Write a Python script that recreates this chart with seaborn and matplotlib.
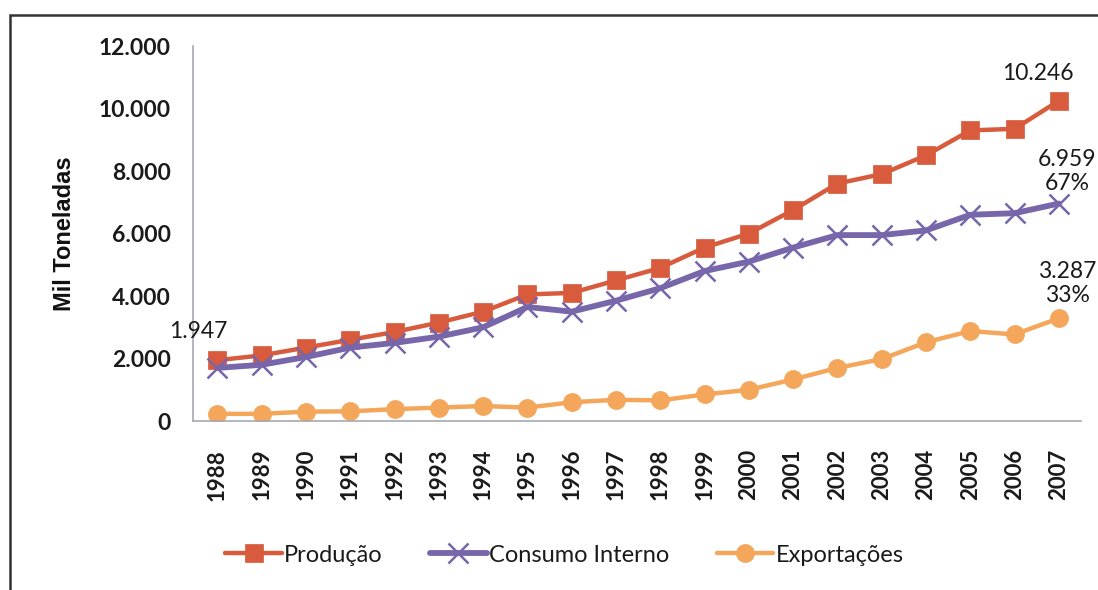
import numpy as np
import pandas as pd
import matplotlib
matplotlib.use("Agg")
import matplotlib.pyplot as plt
from matplotlib.ticker import FuncFormatter, MultipleLocator
from matplotlib.patches import Rectangle
import seaborn as sns

# Series (mil toneladas)
anos = [1988, 1989, 1990, 1991, 1992, 1993, 1994, 1995, 1996, 1997,
        1998, 1999, 2000, 2001, 2002, 2003, 2004, 2005, 2006, 2007]
producao = [1947, 2100, 2350, 2600, 2850, 3150, 3500, 4050, 4100, 4500,
            4900, 5550, 6000, 6750, 7600, 7900, 8500, 9300, 9350, 10246]
consumo = [1700, 1800, 2050, 2350, 2500, 2700, 3000, 3650, 3500, 3850,
           4250, 4800, 5100, 5550, 5950, 5950, 6100, 6600, 6650, 6959]
exportacoes = [230, 230, 300, 310, 380, 430, 480, 430, 600, 680,
               660, 850, 1000, 1330, 1700, 1980, 2520, 2880, 2770, 3287]
series_nomes = ["Produção", "Consumo Interno", "Exportações"]
partes_finais = ["67%", "33%"]

cores = {"Produção": "#D75B3C", "Consumo Interno": "#7766AA", "Exportações": "#F4A65A"}
marcadores = {"Produção": "s", "Consumo Interno": "x", "Exportações": "o"}
espessuras = {"Produção": 3.2, "Consumo Interno": 4.2, "Exportações": 3.2}
tamanhos = {"Produção": 13, "Consumo Interno": 15, "Exportações": 13}

df = pd.DataFrame({"Ano": anos, "Produção": producao,
                   "Consumo Interno": consumo, "Exportações": exportacoes})
longo = df.melt(id_vars="Ano", var_name="Serie", value_name="Valor")

sns.set_theme(style="white")
plt.rcParams["font.family"] = ["Lato", "DejaVu Sans"]

fig = plt.figure(figsize=(10.98, 5.90), dpi=100)
ax = fig.add_axes([0.1758, 0.2864, 0.8087, 0.6356])

for nome in series_nomes:
    sub = longo[longo["Serie"] == nome]
    sns.lineplot(data=sub, x="Ano", y="Valor", ax=ax, color=cores[nome],
                 linewidth=espessuras[nome], marker=marcadores[nome],
                 markersize=tamanhos[nome], markeredgecolor=cores[nome],
                 markeredgewidth=1.8 if nome == "Consumo Interno" else 0.5,
                 label=nome, legend=False)

ax.set_xlim(anos[0] - 0.55, anos[-1] + 0.5)
ax.set_ylim(0, 12000)
ax.yaxis.set_major_locator(MultipleLocator(2000))
ax.yaxis.set_major_formatter(FuncFormatter(lambda v, p: f"{v:,.0f}".replace(",", ".")))
ax.set_xticks(anos)
ax.set_xticklabels([str(a) for a in anos], rotation=90, fontsize=16,
                   fontweight="bold", color="#1a1a1a")
for t in ax.get_yticklabels():
    t.set_fontsize(16.5)
    t.set_fontweight("bold")
    t.set_color("#1a1a1a")
ax.tick_params(axis="x", length=0, pad=20)
ax.tick_params(axis="y", length=0, pad=16)
ax.set_xlabel("")
ax.set_ylabel("Mil Toneladas", family="Liberation Sans", fontsize=17,
              fontweight="bold", color="#111111", labelpad=16)

for lado in ["top", "right"]:
    ax.spines[lado].set_visible(False)
for lado in ["left", "bottom"]:
    ax.spines[lado].set_color("#A8A8B0")
    ax.spines[lado].set_linewidth(1.2)

# value labels
rot_kw = dict(fontsize=16.5, color="#1a1a1a", ha="center", va="bottom")
ax.annotate(f"{producao[0]:,}".replace(",", "."), (anos[0], producao[0]),
            xytext=(-14, 13), textcoords="offset points", **rot_kw)
ax.annotate(f"{producao[-1]:,}".replace(",", "."), (anos[-1], producao[-1]),
            xytext=(-15, 12), textcoords="offset points", **rot_kw)
ax.annotate(f"{consumo[-1]:,}".replace(",", ".") + "\n" + partes_finais[0],
            (anos[-1], consumo[-1]), xytext=(6, 7), textcoords="offset points",
            linespacing=1.15, **rot_kw)
ax.annotate(f"{exportacoes[-1]:,}".replace(",", ".") + "\n" + partes_finais[1],
            (anos[-1], exportacoes[-1]), xytext=(6, 9), textcoords="offset points",
            linespacing=1.15, **rot_kw)

# legend below the axes
handles, labels = ax.get_legend_handles_labels()
leg = fig.legend(handles, labels, loc="center", bbox_to_anchor=(0.514, 0.059), ncol=3,
                 frameon=False, fontsize=17, handlelength=2.4, handletextpad=0.1,
                 columnspacing=2.0, markerscale=1.0)
for t in leg.get_texts():
    t.set_color("#1a1a1a")

# outer frame of the chart area
fig.patches.append(Rectangle((10 / 1098, -0.2), 1.2, 1.2 - 15 / 590,
                             transform=fig.transFigure, fill=False,
                             edgecolor="#333333", linewidth=1.8))

fig.savefig("out.png", dpi=100)
